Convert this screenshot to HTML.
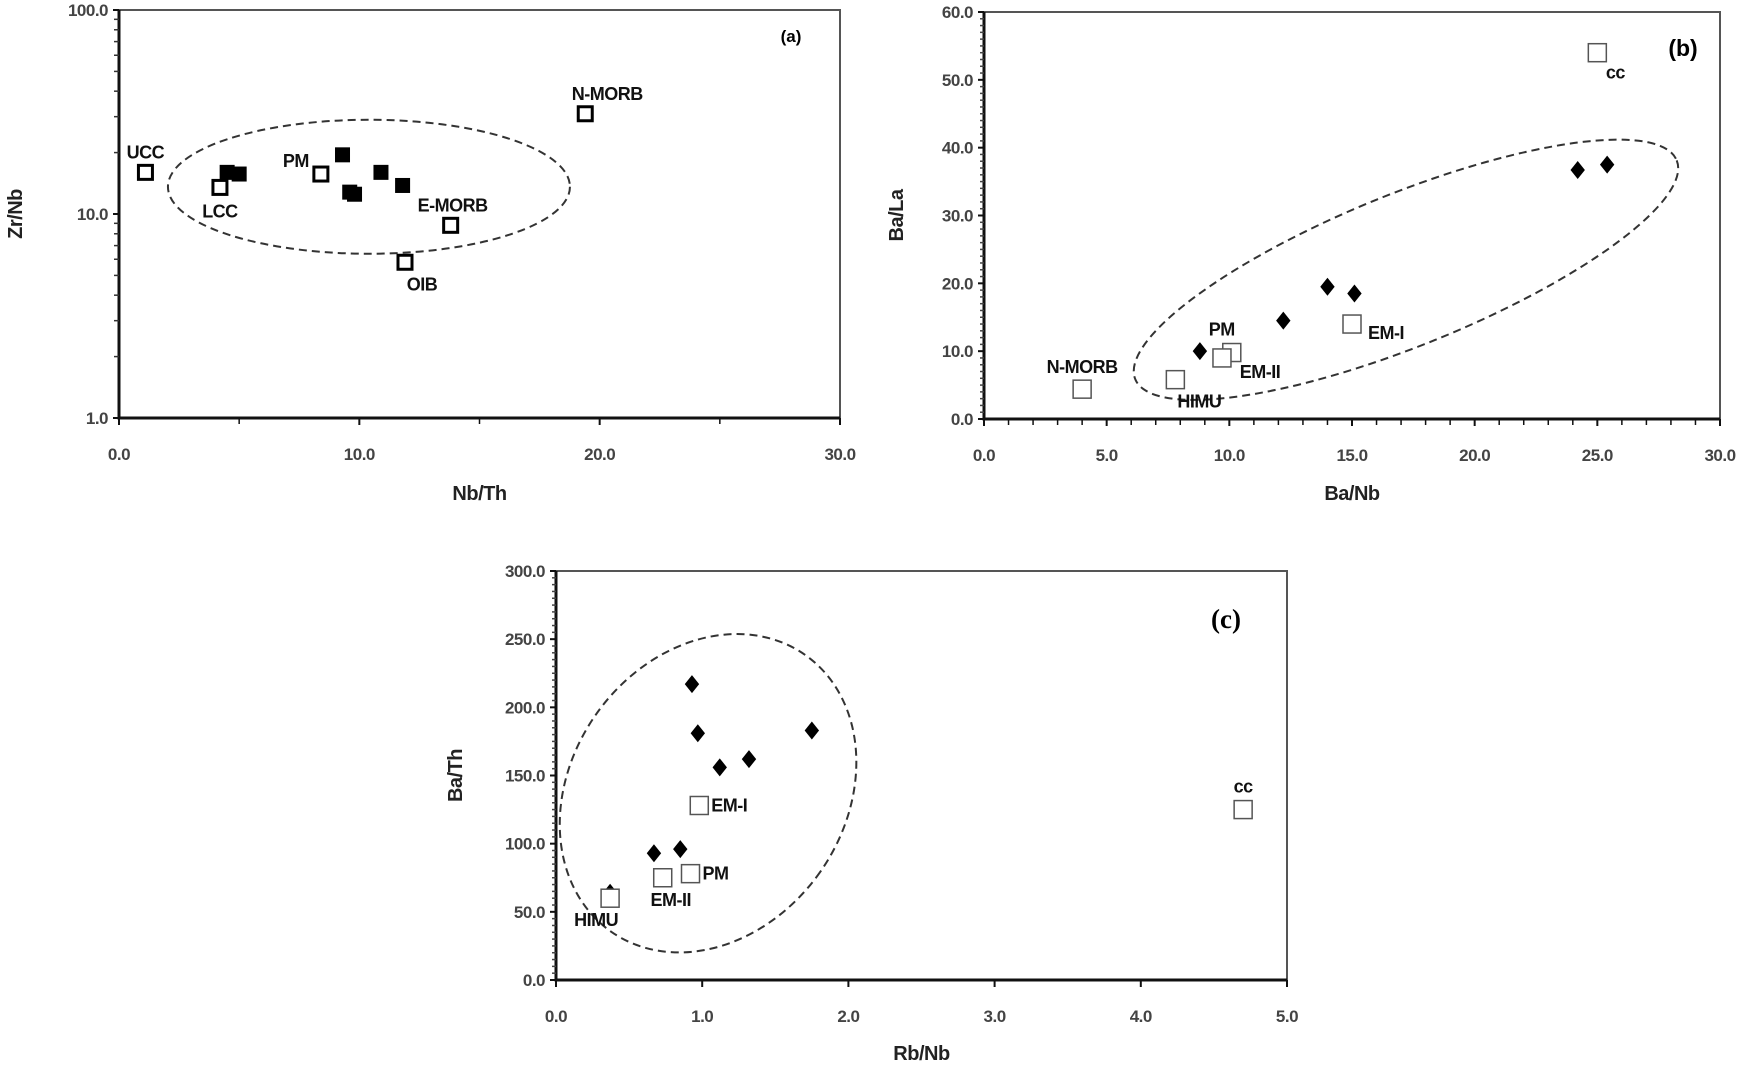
<!DOCTYPE html>
<html><head><meta charset="utf-8"><style>
html,body{margin:0;padding:0;background:#fff;}
svg{display:block;font-family:"Liberation Sans",sans-serif;}
.tl{font-size:17px;fill:#444;font-weight:bold;letter-spacing:-0.5px;}
.at{font-size:20px;fill:#222;font-weight:bold;letter-spacing:-0.5px;}
.pl{font-size:18px;fill:#111;font-weight:bold;letter-spacing:-0.5px;}
</style></head><body>
<svg id="chart" width="1750" height="1071" viewBox="0 0 1750 1071" xmlns="http://www.w3.org/2000/svg"></svg>
<script>
// Panel (a): Nb/Th vs Zr/Nb (log y)
const aOpenX=[1.1,4.2,8.4,19.4,13.8,11.9];
const aOpenY=[16,13.5,15.7,31,8.8,5.8];
const aOpenLabels=["UCC","LCC","PM","N-MORB","E-MORB","OIB"];
const aFillX=[4.5,5.0,9.3,9.6,9.8,10.9,11.8];
const aFillY=[16,15.7,19.5,12.8,12.5,16,13.8];
const aXTicks=["0.0","10.0","20.0","30.0"];
const aYTicks=["1.0","10.0","100.0"];
// Panel (b): Ba/Nb vs Ba/La
const bOpenX=[4.0,7.8,10.1,9.7,15.0,25.0];
const bOpenY=[4.4,5.8,9.8,9.0,14.0,54.0];
const bOpenLabels=["N-MORB","HIMU","PM","EM-II","EM-I","cc"];
const bFillX=[8.8,12.2,14.0,15.1,24.2,25.4];
const bFillY=[10.0,14.5,19.5,18.5,36.7,37.5];
const bXTicks=["0.0","5.0","10.0","15.0","20.0","25.0","30.0"];
const bYTicks=["0.0","10.0","20.0","30.0","40.0","50.0","60.0"];
// Panel (c): Rb/Nb vs Ba/Th
const cOpenX=[0.37,0.73,0.92,0.98,4.7];
const cOpenY=[60,75,78,128,125];
const cOpenLabels=["HIMU","EM-II","PM","EM-I","cc"];
const cFillX=[0.37,0.67,0.85,0.93,0.97,1.12,1.32,1.75];
const cFillY=[64,93,96,217,181,156,162,183];
const cXTicks=["0.0","1.0","2.0","3.0","4.0","5.0"];
const cYTicks=["0.0","50.0","100.0","150.0","200.0","250.0","300.0"];

const NS="http://www.w3.org/2000/svg";
const svg=document.getElementById('chart');
function mk(tag,attrs,parent,text){const e=document.createElementNS(NS,tag);for(const k in attrs)e.setAttribute(k,attrs[k]);if(text!==undefined)e.textContent=text;(parent||svg).appendChild(e);return e;}

function panel(cfg){
  const g=mk('g',{});
  
  
  const {L,R,T,B}=cfg;
  const sx=v=>L+(v-cfg.x0)/(cfg.x1-cfg.x0)*(R-L);
  const sy=cfg.log?(v=>B-(Math.log10(v)-Math.log10(cfg.y0))/(Math.log10(cfg.y1)-Math.log10(cfg.y0))*(B-T)):(v=>B-(v-cfg.y0)/(cfg.y1-cfg.y0)*(B-T));
  const frame=mk('rect',{x:L,y:T,width:R-L,height:B-T,fill:'none',stroke:'#555','stroke-width':2},g);
  
  
  const ax=mk('path',{d:`M${L},${T}V${B}H${R}`,fill:'none',stroke:'#111','stroke-width':3},g);
  
  
  const xt=cfg.xTicks.map(Number);
  const step=xt[1]-xt[0];
  for(let i=0;i<xt.length;i++){
    const x=sx(xt[i]);
    mk('line',{x1:x,y1:B,x2:x,y2:B+7,stroke:'#111','stroke-width':2},g);
    const t=mk('text',{x:x,y:B+42,'text-anchor':'middle',class:'tl'},g,cfg.xTicks[i]);
    
    
    if(i<xt.length-1){
      const n=cfg.xMinor;
      for(let k=1;k<n;k++){const xm=sx(xt[i]+step*k/n);mk('line',{x1:xm,y1:B,x2:xm,y2:B+6,stroke:'#111','stroke-width':1.5},g);}
    }
  }
  const yt=cfg.yTicks.map(Number);
  for(let i=0;i<yt.length;i++){
    const y=sy(yt[i]);
    mk('line',{x1:L-6,y1:y,x2:L,y2:y,stroke:'#111','stroke-width':2},g);
    const t=mk('text',{x:L-11,y:y+6,'text-anchor':'end',class:'tl'},g,cfg.yTicks[i]);
    
    
    if(i<yt.length-1){
      if(cfg.log){for(let k=2;k<10;k++){const ym=sy(yt[i]*k);mk('line',{x1:L-5,y1:ym,x2:L,y2:ym,stroke:'#333','stroke-width':1.5},g);}}
      else{const n=cfg.yMinor;for(let k=1;k<n;k++){const ym=sy(yt[i]+(yt[1]-yt[0])*k/n);mk('line',{x1:L-4,y1:ym,x2:L,y2:ym,stroke:'#444','stroke-width':1.5},g);}}
    }
  }
  const xt2=mk('text',{x:(L+R)/2,y:cfg.xTitleY,'text-anchor':'middle',class:'at'},g,cfg.xTitle);
  
  
  const yt2=mk('text',{x:0,y:0,'text-anchor':'middle',class:'at',transform:`translate(${cfg.yTitleX},${(T+B)/2}) rotate(-90)`},g,cfg.yTitle);
  
  
  const pl=mk('text',{x:cfg.plX,y:cfg.plY,'text-anchor':'middle',style:cfg.plStyle},g,cfg.panelLabel);
  
  
  const e=cfg.ell;
  const el=mk('ellipse',{cx:sx(e.cx),cy:sy(e.cy),rx:e.rx,ry:e.ry,transform:`rotate(${e.rot} ${sx(e.cx)} ${sy(e.cy)})`,fill:'none',stroke:'#333','stroke-width':2,'stroke-dasharray':'8 5'},g);
  
  
  for(let i=0;i<cfg.fx.length;i++){
    const x=sx(cfg.fx[i]),y=sy(cfg.fy[i]);let m;
    if(cfg.diamond){const s=cfg.ms/2+1;m=mk('path',{d:`M${x},${y-s}L${x+s*0.8},${y}L${x},${y+s}L${x-s*0.8},${y}Z`,fill:'#000'},g);}
    else m=mk('rect',{x:x-cfg.ms/2,y:y-cfg.ms/2,width:cfg.ms,height:cfg.ms,fill:'#000'},g);
    
    
  }
  for(let i=0;i<cfg.ox.length;i++){
    const x=sx(cfg.ox[i]),y=sy(cfg.oy[i]);const s=cfg.oms;
    const m=mk('rect',{x:x-s/2,y:y-s/2,width:s,height:s,fill:'#fff',stroke:cfg.oStroke,'stroke-width':cfg.osw},g);
    
    
    const o=cfg.lOff[i];
    const t=mk('text',{x:x+o[0],y:y+o[1],'text-anchor':o[2]||'middle',class:'pl'},g,cfg.oLabels[i]);
    
    
  }
}

panel({name:'panel-a',L:119,R:840,T:10,B:418,x0:0,x1:30,y0:1,y1:100,log:true,xTicks:aXTicks,yTicks:aYTicks,xMinor:2,
  xTitle:'Nb/Th',yTitle:'Zr/Nb',xTitleY:500,yTitleX:22,panelLabel:'(a)',plX:791,plY:42,plStyle:'font:bold 17px "Liberation Sans",sans-serif',
  ell:{cx:10.4,cy:13.6,rx:201,ry:67,rot:0},fx:aFillX,fy:aFillY,diamond:false,ms:15,ox:aOpenX,oy:aOpenY,oLabels:aOpenLabels,oms:14,oStroke:'#000',osw:3,
  lOff:[[0,-14],[0,30],[-25,-7],[22,-14],[2,-14],[17,28]]});
panel({name:'panel-b',L:984,R:1720,T:12,B:419,x0:0,x1:30,y0:0,y1:60,log:false,xTicks:bXTicks,yTicks:bYTicks,xMinor:5,yMinor:10,
  xTitle:'Ba/Nb',yTitle:'Ba/La',xTitleY:500,yTitleX:903,panelLabel:'(b)',plX:1683,plY:56,plStyle:'font:bold 23px "Liberation Sans",sans-serif',
  ell:{cx:17.2,cy:22,rx:292,ry:76,rot:-22},fx:bFillX,fy:bFillY,diamond:true,ms:16,ox:bOpenX,oy:bOpenY,oLabels:bOpenLabels,oms:18,oStroke:'#555',osw:1.5,
  lOff:[[0,-16],[24,28],[-10,-17],[38,20],[34,15],[18,26]]});
panel({name:'panel-c',L:556,R:1287,T:571,B:980,x0:0,x1:5,y0:0,y1:300,log:false,xTicks:cXTicks,yTicks:cYTicks,xMinor:1,yMinor:10,
  xTitle:'Rb/Nb',yTitle:'Ba/Th',xTitleY:1060,yTitleX:462,panelLabel:'(c)',plX:1226,plY:628,plStyle:'font:bold 27px "Liberation Serif",serif',
  ell:{cx:1.04,cy:137,rx:137,ry:169,rot:35},fx:cFillX,fy:cFillY,diamond:true,ms:16,ox:cOpenX,oy:cOpenY,oLabels:cOpenLabels,oms:18,oStroke:'#555',osw:1.5,
  lOff:[[-14,28],[8,28],[12,6,'start'],[12,6,'start'],[0,-17]]});
</script>
</body></html>
